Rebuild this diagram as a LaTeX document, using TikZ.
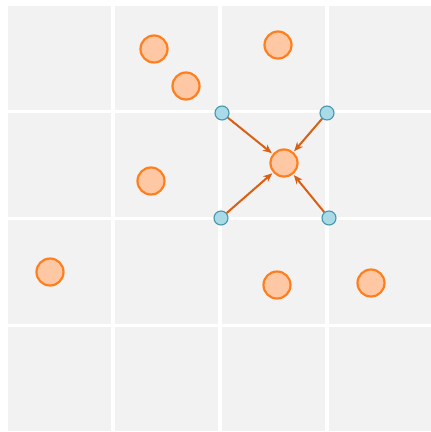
\documentclass[tikz,border=0pt]{standalone}
\usepackage{xcolor}
\usepackage{tikz}
\usetikzlibrary{arrows.meta, positioning, calc}
\definecolor{celda}{RGB}{242, 242, 242}
\definecolor{naranja}{RGB}{255, 127, 30}
\definecolor{naranjaclaro}{RGB}{255, 200, 165}
\definecolor{flecha}{RGB}{217, 95, 20}
\definecolor{azulclaro}{RGB}{168, 218, 232}
\definecolor{azulborde}{RGB}{72, 150, 172}

\begin{document}
\begin{tikzpicture}[
    x=1pt, y=-1pt,
    punto/.style={circle, draw=naranja, fill=naranjaclaro, line width=2.2pt,
                  minimum size=27pt, inner sep=0pt},
    esquina/.style={circle, draw=azulborde, fill=azulclaro, line width=1.1pt,
                    minimum size=14pt, inner sep=0pt},
    arrow/.style={-{Stealth[length=9pt, width=7.5pt]}, line width=2pt, flecha,
                  shorten >=1pt}
]
\useasboundingbox (0,0) rectangle (431,432);

% celdas de la rejilla
\foreach \i in {0,...,3}
  \foreach \j in {0,...,3}
    \fill[celda] ({8+107*\i},{6+107*\j}) rectangle ++(103,104);

% puntos de datos
\node[punto] (p1) at (154,49) {};
\node[punto] (p2) at (186,86) {};
\node[punto] (p3) at (278,45) {};
\node[punto] (p4) at (151,181) {};
\node[punto] (c) at (284,163) {};
\node[punto] (p5) at (50,272) {};
\node[punto] (p6) at (277,285) {};
\node[punto] (p7) at (371,283) {};

% esquinas de la celda
\node[esquina] (nw) at (222,113) {};
\node[esquina] (ne) at (327,113) {};
\node[esquina] (sw) at (221,218) {};
\node[esquina] (se) at (329,218) {};

\draw[arrow] (nw) -- (c);
\draw[arrow] (ne) -- (c);
\draw[arrow] (sw) -- (c);
\draw[arrow] (se) -- (c);
\end{tikzpicture}
\end{document}
